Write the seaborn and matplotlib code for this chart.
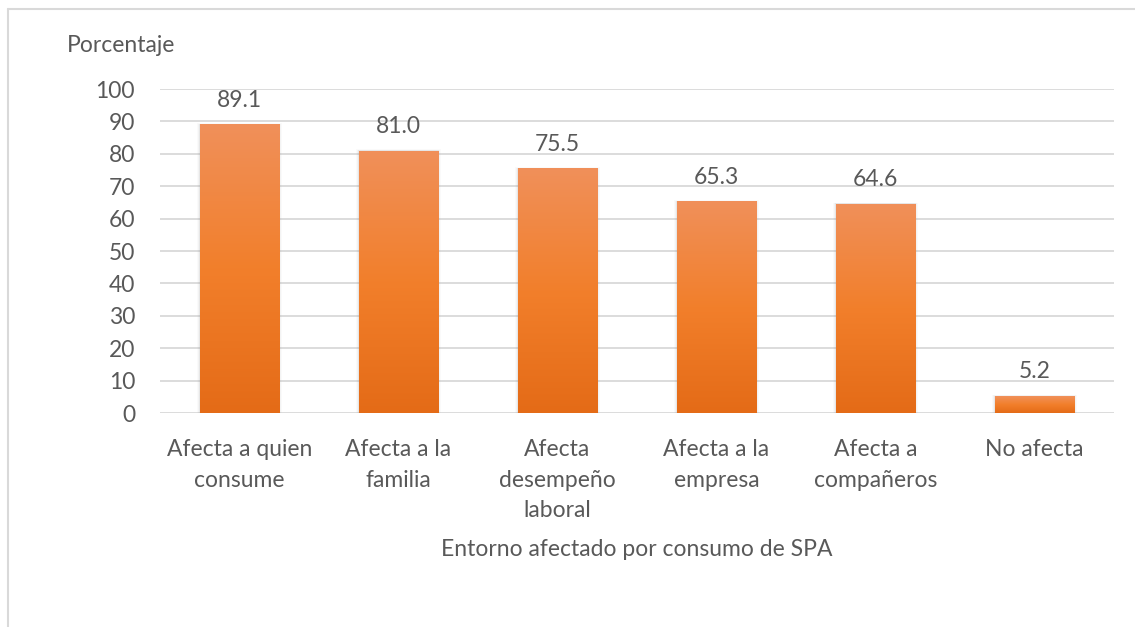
import numpy as np
import pandas as pd
import matplotlib
matplotlib.use("Agg")
import matplotlib.pyplot as plt
from matplotlib.colors import LinearSegmentedColormap
from matplotlib.lines import Line2D
import seaborn as sns

categories = ["Afecta a quien\nconsume", "Afecta a la\nfamilia", "Afecta\ndesempeño\nlaboral",
              "Afecta a la\nempresa", "Afecta a\ncompañeros", "No afecta"]
values = [89.1, 81.0, 75.5, 65.3, 64.6, 5.2]
y_ticks = [0, 10, 20, 30, 40, 50, 60, 70, 80, 90, 100]

df = pd.DataFrame({"entorno": categories, "pct": values})

sns.set_theme(style="white")
plt.rcParams["font.family"] = ["Lato", "DejaVu Sans"]
text_color = "#595959"
grid_color = "#d9d9d9"
fs = 16.5

fig = plt.figure(figsize=(11.35, 6.27), dpi=100)
ax = fig.add_axes([160 / 1135, (627 - 413) / 627, (1114 - 160) / 1135, (413 - 89) / 627])

sns.barplot(data=df, x="entorno", y="pct", color="#f07f2a", width=0.5, ax=ax,
            saturation=1, zorder=3)

ax.set_ylim(0, 100)
ax.set_yticks(y_ticks)
ax.yaxis.grid(True, color=grid_color, linewidth=1.3, zorder=0)
ax.set_axisbelow(True)
for s in ax.spines.values():
    s.set_visible(False)
ax.tick_params(axis="y", length=0, pad=18, labelsize=fs, labelcolor=text_color)
ax.tick_params(axis="x", length=0, pad=19, labelsize=fs, labelcolor=text_color)
for lbl in ax.get_xticklabels():
    lbl.set_linespacing(1.55)
ax.set_xlabel("Entorno afectado por consumo de SPA", fontsize=fs, color=text_color, labelpad=13)
ax.set_ylabel("")

# gradient fill and soft side shadow for each bar
grad = LinearSegmentedColormap.from_list("orange_grad", ["#e46b17", "#f27f2b", "#f0905a"])
gradient = np.linspace(0, 1, 256).reshape(-1, 1)
for bar, v in zip(ax.patches, values):
    x0, w, h = bar.get_x(), bar.get_width(), bar.get_height()
    for k, a in enumerate([0.10, 0.06, 0.03]):
        d = 0.006 * (k + 1)
        sh = plt.Rectangle((x0 - d, 0), w + 2 * d, h + 0.12 * (k + 1),
                           facecolor="#7f7f7f", edgecolor="none", alpha=a, zorder=2)
        ax.add_patch(sh)
    bar.set_facecolor("none")
    bar.set_edgecolor("none")
    im = ax.imshow(gradient, cmap=grad, aspect="auto", origin="lower",
                   extent=[x0, x0 + w, 0, h], zorder=3)
    im.set_clip_path(bar)
    ax.annotate(f"{v:.1f}", (x0 + w / 2, h), xytext=(0, 17.5), textcoords="offset points",
                ha="center", va="center", fontsize=fs, color=text_color)
ax.set_xlim(-0.5, len(values) - 0.5)
ax.set_ylim(0, 100)

fig.text(67 / 1135, 1 - 45 / 627, "Porcentaje", fontsize=fs, color=text_color,
         ha="left", va="center")

# chart area frame (top and left edges)
fig.add_artist(Line2D([8 / 1135, 8 / 1135], [0, 1 - 9 / 627], color=grid_color, linewidth=1.5,
                      transform=fig.transFigure))
fig.add_artist(Line2D([8 / 1135, 1], [1 - 9 / 627, 1 - 9 / 627], color=grid_color, linewidth=1.5,
                      transform=fig.transFigure))

fig.savefig("out.png", dpi=100, facecolor="white")
